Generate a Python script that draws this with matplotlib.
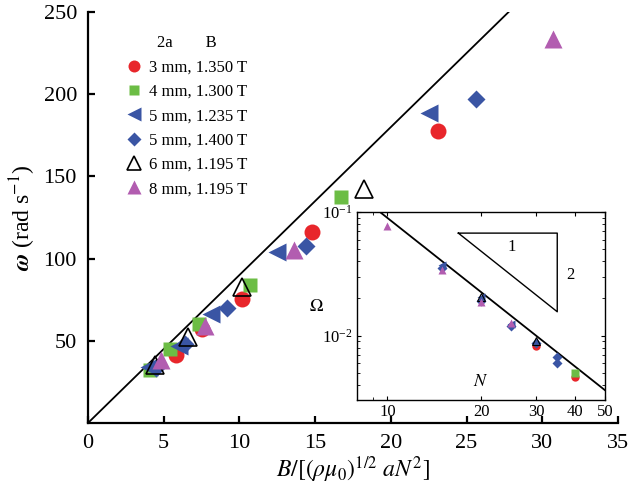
import numpy as np
import matplotlib
matplotlib.use("Agg")
import matplotlib.pyplot as plt
from matplotlib.ticker import FixedLocator, FixedFormatter, NullFormatter, LogLocator

plt.rcParams['font.family'] = ['Liberation Serif', 'DejaVu Serif']
plt.rcParams['mathtext.fontset'] = 'stix'

# main panel data: B/[(rho mu0)^1/2 a N^2] vs omega (rad/s)
red_x = [5.8, 7.5, 10.2, 14.8, 23.1]
red_y = [41.5, 57.0, 75.4, 116.0, 177.8]
green_x = [4.1, 5.4, 7.3, 10.7, 16.7]
green_y = [32.5, 44.8, 60.2, 84.0, 137.7]
bleft_x = [4.0, 6.0, 8.1, 12.5, 22.5]
bleft_y = [34.2, 46.6, 66.3, 104.0, 188.8]
diam_x = [4.5, 6.4, 9.2, 14.4, 25.6]
diam_y = [33.5, 48.0, 70.2, 107.7, 197.0]
black_x = [4.4, 6.6, 10.2, 18.2]
black_y = [35.5, 52.3, 82.5, 142.0]
mag_x = [4.8, 7.7, 13.6, 30.7]
mag_y = [38.5, 59.0, 104.9, 233.7]

labels = ['3 mm, 1.350 T', '4 mm, 1.300 T', '5 mm, 1.235 T',
          '5 mm, 1.400 T', '6 mm, 1.195 T', '8 mm, 1.195 T']

# inset: N vs Omega
in_red_n = [30, 40]
in_red_o = [0.0082, 0.0046]
in_green_n = [40]
in_green_o = [0.0050]
in_bleft_n = [15, 20, 25]
in_bleft_o = [0.0375, 0.0207, 0.0125]
in_diam_n = [15, 20, 25, 30, 35, 35]
in_diam_o = [0.0355, 0.0190, 0.0120, 0.0087, 0.0067, 0.0060]
in_black_n = [20, 30]
in_black_o = [0.0207, 0.0091]
in_mag_n = [10, 15, 20, 25]
in_mag_o = [0.077, 0.034, 0.0188, 0.0127]

slope_c = 9.0  # omega = 9 x, Omega = 9 / N^2

c_red = '#e8262b'
c_green = '#6cbd45'
c_blue = '#3a55a4'
c_mag = '#b25db0'

fig = plt.figure(figsize=(6.31, 4.97), dpi=100)
ax = fig.add_axes([0.1395, 0.149, 0.840, 0.827])

xl = np.array([0, 250 / slope_c])
ax.plot(xl, slope_c * xl, color='black', lw=1.3, zorder=1)

ms = 11.5
h1, = ax.plot(red_x, red_y, 'o', color=c_red, ms=ms, mec='none', label=labels[0])
h2, = ax.plot(green_x, green_y, 's', color=c_green, ms=ms * 0.85, mec='none', label=labels[1])
h3, = ax.plot(bleft_x, bleft_y, '<', color=c_blue, ms=ms * 1.15, mec='none', label=labels[2])
h4, = ax.plot(diam_x, diam_y, 'D', color=c_blue, ms=ms * 0.8, mec='none', label=labels[3])
h5, = ax.plot(black_x, black_y, '^', mfc='none', mec='black', mew=1.2, ms=ms * 1.1, label=labels[4])
h6, = ax.plot(mag_x, mag_y, '^', color=c_mag, ms=ms * 1.15, mec='none', label=labels[5])

ax.set_xlim(0, 35)
ax.set_ylim(0, 250)
ax.set_xticks([0, 5, 10, 15, 20, 25, 30, 35])
ax.set_yticks([50, 100, 150, 200, 250])
for s in ['top', 'right']:
    ax.spines[s].set_visible(False)
for s in ['left', 'bottom']:
    ax.spines[s].set_linewidth(1.6)
ax.tick_params(direction='in', length=5, width=1.6, labelsize=16, pad=8)
ax.set_xlabel(r'$B/[(\rho\mu_0)^{1/2}\ aN^2]$', fontsize=17, labelpad=1)
ax.set_ylabel(r'$\boldsymbol{\omega}$ (rad s$^{-1}$)', fontsize=17, labelpad=4)

leg = ax.legend(handles=[h1, h2, h3, h4, h5, h6], loc='upper left',
                bbox_to_anchor=(0.045, 0.98), frameon=False, fontsize=12,
                title='2a        B', title_fontsize=12, handlelength=0.9,
                handletextpad=0.4, labelspacing=0.5, markerscale=0.75)

# inset
axi = fig.add_axes([0.566, 0.195, 0.393, 0.378])
axi.set_xscale('log')
axi.set_yscale('log')
axi.set_xlim(8, 50)
axi.set_ylim(0.003, 0.1)
nl = np.array([8, 50])
axi.plot(nl, slope_c / nl ** 2, color='black', lw=1.3, zorder=1)

ims = 6
axi.plot(in_red_n, in_red_o, 'o', color=c_red, ms=ims, mec='none')
axi.plot(in_green_n, in_green_o, 's', color=c_green, ms=ims * 0.85, mec='none')
axi.plot(in_bleft_n, in_bleft_o, '<', color=c_blue, ms=ims, mec='none')
axi.plot(in_diam_n, in_diam_o, 'D', color=c_blue, ms=ims * 0.8, mec='none')
axi.plot(in_black_n, in_black_o, '^', mfc='none', mec='black', mew=0.8, ms=ims)
axi.plot(in_mag_n, in_mag_o, '^', color=c_mag, ms=ims, mec='none')

# slope triangle
tri_x = [16.9, 35.1, 35.1, 16.9]
tri_y = [0.0677, 0.0677, 0.0156, 0.0677]
axi.plot(tri_x, tri_y, color='black', lw=1.0)
axi.text(25.1, 0.0525, '1', fontsize=12, ha='center', va='center')
axi.text(38.6, 0.031, '2', fontsize=12, ha='center', va='center')

axi.xaxis.set_major_locator(FixedLocator([10, 20, 30, 40, 50]))
axi.xaxis.set_major_formatter(FixedFormatter(['10', '20', '30', '40', '50']))
axi.xaxis.set_minor_formatter(NullFormatter())
axi.yaxis.set_major_locator(LogLocator(base=10, numticks=5))
axi.tick_params(which='both', direction='in', top=True, right=True, labelsize=12, pad=3)
axi.tick_params(which='major', length=3)
axi.tick_params(which='minor', length=2)
for s in axi.spines.values():
    s.set_linewidth(1.0)
axi.set_ylabel(r'$\Omega$', fontsize=13, rotation=0, labelpad=4, va='center')
axi.text(0.5, 0.1, r'$N$', transform=axi.transAxes, fontsize=13, ha='center', va='center')

fig.savefig('out.png', dpi=100)
